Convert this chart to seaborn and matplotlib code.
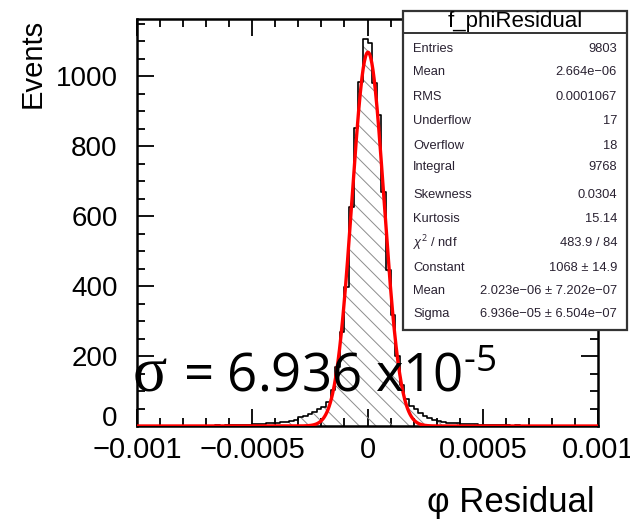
import numpy as np
import pandas as pd
import matplotlib
matplotlib.use("Agg")
import matplotlib.pyplot as plt
from matplotlib.patches import Rectangle
from matplotlib.ticker import MultipleLocator
import seaborn as sns

# histogram of phi residual, 100 bins from -0.001 to 0.001 (counts)
x_min, x_max, n_bins = -0.001, 0.001, 100
counts_neg = [0, 0, 0, 0, 0, 0, 0, 1, 0, 0,
              1, 0, 1, 0, 1, 1, 1, 2, 1, 2,
              2, 3, 3, 4, 4, 5, 6, 7, 8, 9,
              10, 11, 12, 14, 18, 25, 30, 35, 40, 48,
              55, 70, 102, 170, 270, 397, 626, 851, 983, 1105]
counts_pos = [1093, 980, 889, 669, 446, 318, 200, 118, 76, 58,
              48, 38, 30, 22, 18, 14, 12, 10, 9, 8,
              7, 6, 5, 5, 4, 4, 3, 3, 2, 3,
              2, 1, 2, 1, 1, 0, 1, 1, 0, 0,
              1, 0, 0, 0, 1, 0, 0, 0, 0, 0]

# gaussian fit parameters from the stats box
fit_constant = 1068
fit_mean = 2.023e-06
fit_sigma = 6.936e-05

stat_labels = ["Entries", "Mean", "RMS", "Underflow", "Overflow", "Integral",
               "Skewness", "Kurtosis", r"$\chi^2$ / ndf", "Constant", "Mean", "Sigma"]
stat_values = ["9803", "2.664e\u221206", "0.0001067", "17", "18", "9768",
               "0.0304", "15.14", "483.9 / 84", "1068 \u00b1 14.9",
               "2.023e\u221206 \u00b1 7.202e\u221207", "6.936e\u221205 \u00b1 6.504e\u221207"]
stat_rows_y = [49, 72, 97, 121, 146, 167, 195, 219, 243, 268, 291, 314]

x_ticks = [-0.001, -0.0005, 0, 0.0005, 0.001]
x_tick_labels = ["\u22120.001", "\u22120.0005", "0", "0.0005", "0.001"]
y_ticks = [0, 200, 400, 600, 800, 1000]

sns.set_style("ticks")
plt.rcParams["font.family"] = ["Liberation Sans", "DejaVu Sans"]
plt.rcParams.update({
    "text.color": "black", "axes.labelcolor": "black", "axes.edgecolor": "black",
    "xtick.color": "black", "ytick.color": "black",
    "hatch.linewidth": 0.7,
    "mathtext.fontset": "custom",
    "mathtext.rm": "Open Sans", "mathtext.it": "Liberation Sans:italic",
})

bin_w = (x_max - x_min) / n_bins
centers = x_min + bin_w * (np.arange(n_bins) + 0.5)
df = pd.DataFrame({"residual": centers, "events": counts_neg + counts_pos})

W, H = 630, 527
fig = plt.figure(figsize=(W / 100, H / 100), dpi=100)
ax = fig.add_axes([137 / W, 1 - 426 / H, 461 / W, 407 / H])

# hatched fill
sns.histplot(data=df, x="residual", weights="events", bins=n_bins, binrange=(x_min, x_max),
             element="step", fill=True, ax=ax, color="white")
fill = ax.collections[-1]
fill.set_facecolor("none")
fill.set_edgecolor("0.55")
fill.set_linewidth(0)
fill.set_hatch("\\\\")
# outline
sns.histplot(data=df, x="residual", weights="events", bins=n_bins, binrange=(x_min, x_max),
             element="step", fill=False, ax=ax, color="black", linewidth=1.2)

# fit curve
xf = np.linspace(x_min, x_max, 800)
yf = fit_constant * np.exp(-0.5 * ((xf - fit_mean) / fit_sigma) ** 2)
sns.lineplot(x=xf, y=yf, ax=ax, color="#ff0000", linewidth=2.4, zorder=5)

ax.set_xlim(x_min, x_max)
ax.set_ylim(0, 1163)
ax.set_xticks(x_ticks)
ax.set_xticklabels(x_tick_labels, fontsize=21)
ax.set_yticks(y_ticks)
ax.set_yticklabels([str(v) for v in y_ticks], fontsize=20)
ax.get_yticklabels()[0].set_va("baseline")
ax.xaxis.set_minor_locator(MultipleLocator(0.0001))
ax.yaxis.set_minor_locator(MultipleLocator(50))
ax.tick_params(which="both", direction="in", top=True, right=True, width=1.3)
ax.tick_params(which="major", length=12, pad=7)
ax.tick_params(axis="y", which="major", pad=14)
ax.tick_params(which="minor", length=6)
for s in ax.spines.values():
    s.set_linewidth(1.8)

ax.set_ylabel("Events", fontsize=21, loc="top")
ax.yaxis.set_label_coords(-0.197, 1.0)
ax.set_xlabel("\u03c6 Residual", fontsize=25, loc="right")
ax.xaxis.set_label_coords(0.993, -0.148)

# big sigma annotation
fig.text(133 / W, 1 - 391 / H, "\u03c3", fontsize=46, family=["Liberation Serif"],
         va="baseline", ha="left", zorder=10)
fig.text(183 / W, 1 - 391 / H, "= 6.936 x10$^{\\text{-5}}$", fontsize=38,
         family=["Open Sans", "DejaVu Sans"], va="baseline", ha="left", zorder=10)

# stats box
bx0, by_top, bx1, by_bot = 403, 11, 627, 330
fig.patches.append(Rectangle((bx0 / W, 1 - by_bot / H), (bx1 - bx0) / W, (by_bot - by_top) / H,
                             transform=fig.transFigure, facecolor="white",
                             edgecolor="#333333", linewidth=1.6, zorder=20))
fig.lines.append(plt.Line2D([bx0 / W, bx1 / W], [1 - 33 / H, 1 - 33 / H],
                            transform=fig.transFigure, color="#333333", linewidth=1.4, zorder=21))
fig.text((bx0 + bx1) / 2 / W, 1 - 22 / H, "f_phiResidual", fontsize=16,
         ha="center", va="center", zorder=22)
for lab, val, yy in zip(stat_labels, stat_values, stat_rows_y):
    fig.text(413 / W, 1 - yy / H, lab, fontsize=9.3, color="#2a2232",
             ha="left", va="center", zorder=22)
    fig.text(617 / W, 1 - yy / H, val, fontsize=9.3, color="#2a2232",
             ha="right", va="center", zorder=22)

fig.savefig("out.png", dpi=100)
